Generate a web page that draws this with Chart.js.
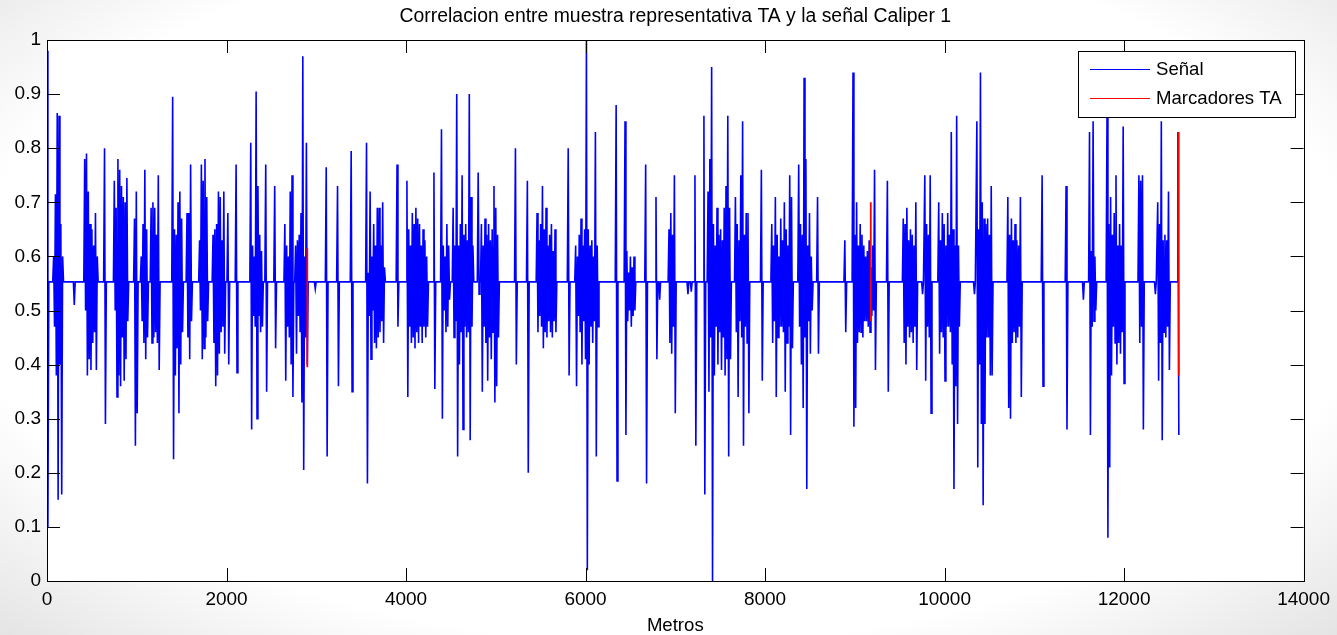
<!DOCTYPE html>
<html>
<head>
<meta charset="utf-8">
<title>Correlacion entre muestra representativa TA y la señal Caliper 1</title>
<script src="https://cdn.jsdelivr.net/npm/chart.js@4.4.1/dist/chart.umd.min.js"></script>
<style>
  html, body { margin: 0; padding: 0; }
  body {
    width: 1337px; height: 635px; overflow: hidden;
    background: radial-gradient(ellipse 72% 78% at 50% 45%, #ffffff 72%, #e3e3e3 100%);
  }
  canvas { display: block; }
</style>
</head>
<body>
<canvas id="grafica" width="1337" height="635"></canvas>
<script>
// Datos
const nivelBase = 0.553;   // nivel de la señal fuera de los tramos
const paso = 10;           // metros entre muestras dentro de un tramo

// inicio (metros) de cada tramo con actividad
const inicioTramo = [
  0, 74, 304, 420, 641, 750, 975, 1050, 1160, 1400,
  1560, 1700, 1850, 2015, 2107, 2270, 2437, 2537, 2650, 2770,
  2989, 3111, 3237, 3389, 3560, 3900, 4010, 4311, 4395, 4525,
  4804, 4840, 5219, 5352, 5460, 5807, 5890, 6341, 6440, 6670,
  6785, 6826, 6930, 7141, 7178, 7219, 7319, 7365, 7670, 7959,
  8075, 8375, 8585, 8889, 8980, 9363, 9540, 9755, 9780, 9935,
  10333, 10360, 10705, 11087, 11354, 11547, 11615, 11810, 12165, 12349,
  12375, 12600
];

// valores de correlacion de cada tramo
const valoresTramo = [
  [0.98, 0.10],
  [0.60, 0.47, 0.715, 0.38, 0.865, 0.15, 0.86, 0.40, 0.66, 0.16, 0.60],
  [0.51],
  [0.78, 0.50, 0.79, 0.38, 0.72, 0.41, 0.66, 0.39, 0.65, 0.44, 0.62, 0.46, 0.68, 0.39, 0.60],
  [0.80, 0.29],
  [0.74, 0.50, 0.69, 0.34, 0.78, 0.38, 0.76, 0.36, 0.73, 0.45, 0.71, 0.37, 0.70, 0.41, 0.745, 0.48],
  [0.67, 0.25, 0.72, 0.31],
  [0.60, 0.48, 0.66, 0.44, 0.76, 0.41, 0.65, 0.45],
  [0.69, 0.44, 0.70, 0.45, 0.69, 0.46, 0.64, 0.44, 0.75, 0.39],
  [0.895, 0.225, 0.65, 0.38, 0.64, 0.43, 0.70, 0.31, 0.72, 0.40, 0.67, 0.46],
  [0.68, 0.45, 0.68, 0.41, 0.77, 0.48],
  [0.63, 0.50, 0.77, 0.41, 0.74, 0.43, 0.78, 0.45, 0.71, 0.48],
  [0.64, 0.44, 0.65, 0.36, 0.66, 0.38, 0.72, 0.42, 0.71, 0.46, 0.63, 0.47, 0.72, 0.42],
  [0.68, 0.40],
  [0.77, 0.385],
  [0.81, 0.28, 0.62, 0.49, 0.60, 0.47, 0.905, 0.30, 0.73, 0.49, 0.64, 0.46, 0.61, 0.47],
  [0.77, 0.35],
  [0.73, 0.43],
  [0.66, 0.37, 0.62, 0.47, 0.60, 0.45, 0.72, 0.40, 0.75, 0.34],
  [0.62, 0.42, 0.63, 0.49, 0.64, 0.46, 0.68, 0.33, 0.97, 0.205, 0.60, 0.45, 0.81, 0.40],
  [0.54],
  [0.765, 0.23],
  [0.73, 0.36],
  [0.795, 0.35],
  [0.81, 0.18, 0.57, 0.49, 0.72, 0.41, 0.60, 0.50, 0.66, 0.44, 0.62, 0.43, 0.69, 0.45, 0.69, 0.46, 0.62, 0.48, 0.70, 0.44, 0.58],
  [0.77, 0.47],
  [0.74, 0.34, 0.65, 0.47, 0.62, 0.44, 0.68, 0.45, 0.66, 0.43, 0.69, 0.46, 0.67, 0.44, 0.66, 0.47, 0.62, 0.44, 0.65, 0.47, 0.63, 0.45, 0.60, 0.47],
  [0.755, 0.355],
  [0.835, 0.30, 0.62, 0.50, 0.60, 0.46, 0.66, 0.47, 0.62, 0.52],
  [0.69, 0.45, 0.62, 0.48, 0.90, 0.23, 0.62, 0.40, 0.66, 0.46, 0.75, 0.28, 0.64, 0.47, 0.66, 0.45, 0.63, 0.46, 0.90, 0.26, 0.71, 0.47, 0.62],
  [0.755, 0.53],
  [0.66, 0.35, 0.62, 0.47, 0.67, 0.44, 0.64, 0.37, 0.66, 0.45, 0.63, 0.41, 0.65, 0.46, 0.73, 0.33, 0.69, 0.36, 0.64, 0.45],
  [0.80, 0.40],
  [0.74, 0.20],
  [0.68, 0.46, 0.63, 0.49, 0.66, 0.47, 0.73, 0.43, 0.65, 0.46, 0.69, 0.45, 0.62, 0.48, 0.64, 0.46, 0.66, 0.45, 0.61, 0.48, 0.65, 0.46],
  [0.80, 0.38],
  [0.62, 0.36, 0.60, 0.49, 0.64, 0.46, 0.67, 0.40, 0.62, 0.48, 0.65, 0.41, 1.0, 0.02, 0.65, 0.40, 0.62, 0.47, 0.63, 0.44, 0.60, 0.48, 0.83, 0.23, 0.62, 0.47],
  [0.88, 0.185],
  [0.85, 0.27, 0.61, 0.48, 0.57, 0.50, 0.60, 0.47, 0.58, 0.49, 0.60, 0.50],
  [0.77, 0.18],
  [0.71, 0.41],
  [0.52],
  [0.65, 0.44, 0.68, 0.42, 0.64, 0.47, 0.75, 0.31],
  [0.53],
  [0.535],
  [0.75, 0.25],
  [0.86, 0.16],
  [0.72, 0.35, 0.78, 0.45, 0.95, 0.0, 0.66, 0.38, 0.62, 0.47, 0.69, 0.40, 0.64, 0.46, 0.65, 0.39, 0.63, 0.45, 0.69, 0.38, 0.73, 0.41, 0.86, 0.23, 0.69, 0.41],
  [0.71, 0.46, 0.66, 0.34, 0.63, 0.48, 0.75, 0.45, 0.85, 0.25, 0.64, 0.47, 0.68, 0.44, 0.68, 0.31],
  [0.76, 0.37],
  [0.66, 0.44, 0.62, 0.48, 0.71, 0.34, 0.64, 0.45, 0.60, 0.47, 0.67, 0.47, 0.63, 0.46, 0.70, 0.35, 0.65, 0.44, 0.62, 0.47, 0.75, 0.27, 0.71, 0.43],
  [0.77, 0.47, 0.66, 0.40, 0.64, 0.32, 0.93, 0.45, 0.78, 0.17, 0.62, 0.48, 0.68, 0.42, 0.60, 0.50],
  [0.71, 0.42],
  [0.63, 0.46],
  [0.94, 0.285, 0.64, 0.32, 0.70, 0.44, 0.62, 0.46, 0.66, 0.46, 0.64, 0.45, 0.62, 0.48, 0.60, 0.48, 0.61, 0.47, 0.63, 0.46, 0.58, 0.49, 0.62, 0.50, 0.76, 0.39],
  [0.74, 0.35],
  [0.67, 0.44, 0.66, 0.40, 0.69, 0.47, 0.63, 0.45, 0.65, 0.46, 0.64, 0.44, 0.62, 0.47, 0.70, 0.39],
  [0.53],
  [0.75, 0.37, 0.66, 0.47, 0.64, 0.45, 0.75, 0.31],
  [0.70, 0.42, 0.63, 0.46, 0.68, 0.45, 0.66, 0.37, 0.62, 0.47, 0.68, 0.47, 0.64, 0.46, 0.83, 0.40, 0.65, 0.17, 0.62, 0.36, 0.86, 0.29, 0.62, 0.47],
  [0.53],
  [0.85, 0.21, 0.65, 0.40, 0.94, 0.29, 0.70, 0.14, 0.67, 0.29, 0.66, 0.45, 0.67, 0.45, 0.64, 0.38, 0.73, 0.38],
  [0.71, 0.32, 0.64, 0.30, 0.67, 0.44, 0.63, 0.46, 0.66, 0.44, 0.63, 0.45, 0.62, 0.47, 0.71, 0.34],
  [0.75, 0.36],
  [0.73, 0.28],
  [0.52],
  [0.83, 0.27, 0.61, 0.47, 0.85, 0.48, 0.60, 0.50],
  [0.86, 0.08, 0.66, 0.21, 0.71, 0.38, 0.64, 0.47, 0.68, 0.44, 0.75, 0.40, 0.62, 0.44, 0.66, 0.42, 0.62, 0.46, 0.84, 0.365],
  [0.75, 0.44, 0.74, 0.47, 0.75, 0.28],
  [0.53],
  [0.70, 0.37, 0.66, 0.44, 0.85, 0.26, 0.63, 0.46, 0.64, 0.45, 0.63, 0.47, 0.72, 0.39],
  [0.83, 0.27]
];

// marcadores TA (segmentos rojos)
const marcadorMetros = [0, 2900, 9178, 12609];
const marcadorMin = [0.28, 0.395, 0.48, 0.38];
const marcadorMax = [0.76, 0.615, 0.70, 0.83];

const ticksX = [0, 2000, 4000, 6000, 8000, 10000, 12000, 14000];
const ticksY = [0, 0.1, 0.2, 0.3, 0.4, 0.5, 0.6, 0.7, 0.8, 0.9, 1];

const fuente = '"Liberation Sans", Arial, sans-serif';

// Build the signal points from the tramos
function armarSenal() {
  const puntos = [];
  inicioTramo.forEach((inicio, i) => {
    const valores = valoresTramo[i];
    puntos.push({ x: inicio - paso, y: nivelBase });
    valores.forEach((v, j) => puntos.push({ x: inicio + j * paso, y: v }));
    if (i < inicioTramo.length - 1) {
      puntos.push({ x: inicio + valores.length * paso, y: nivelBase });
    }
  });
  return puntos;
}

function armarMarcadores() {
  const puntos = [];
  marcadorMetros.forEach((m, i) => {
    puntos.push({ x: m, y: marcadorMin[i] }, { x: m, y: marcadorMax[i] }, { x: m, y: null });
  });
  return puntos;
}

// Frame, inward ticks, title and legend in MATLAB style
const estiloMatlab = {
  id: 'estiloMatlab',
  beforeDatasetsDraw(chart) {
    const { ctx, chartArea: a } = chart;
    ctx.save();
    ctx.fillStyle = '#ffffff';
    ctx.fillRect(a.left, a.top, a.right - a.left, a.bottom - a.top);
    ctx.restore();
  },
  afterDraw(chart) {
    const { ctx, chartArea: a, scales } = chart;
    const largo = 13;
    ctx.save();
    ctx.strokeStyle = '#000';
    ctx.lineWidth = 1;
    ctx.beginPath();
    ticksX.forEach(v => {
      const px = Math.round(scales.x.getPixelForValue(v)) + 0.5;
      ctx.moveTo(px, a.bottom); ctx.lineTo(px, a.bottom - largo);
      ctx.moveTo(px, a.top); ctx.lineTo(px, a.top + largo);
    });
    ticksY.forEach(v => {
      const py = Math.round(scales.y.getPixelForValue(v)) + 0.5;
      ctx.moveTo(a.left, py); ctx.lineTo(a.left + largo, py);
      ctx.moveTo(a.right, py); ctx.lineTo(a.right - largo, py);
    });
    ctx.stroke();
    ctx.strokeRect(Math.round(a.left) + 0.5, Math.round(a.top) + 0.5,
      Math.round(a.right - a.left), Math.round(a.bottom - a.top));

    // title
    ctx.fillStyle = '#000';
    ctx.font = '19.4px ' + fuente;
    ctx.textAlign = 'center';
    ctx.textBaseline = 'middle';
    ctx.fillText('Correlacion entre muestra representativa TA y la señal Caliper 1', (a.left + a.right) / 2, 17);

    // legend
    const lx = 1078, ly = 51, lw = 217, lh = 66;
    ctx.fillStyle = '#fff';
    ctx.fillRect(lx, ly, lw, lh);
    ctx.strokeStyle = '#000';
    ctx.strokeRect(lx + 0.5, ly + 0.5, lw, lh);
    const entradas = [
      { texto: 'Señal', color: 'rgb(0,0,255)', y: 69 },
      { texto: 'Marcadores TA', color: 'rgb(255,0,0)', y: 98 }
    ];
    ctx.font = '18.6px ' + fuente;
    ctx.textAlign = 'left';
    entradas.forEach(e => {
      ctx.strokeStyle = e.color;
      ctx.beginPath();
      ctx.moveTo(1090, e.y + 0.5); ctx.lineTo(1150, e.y + 0.5);
      ctx.stroke();
      ctx.fillStyle = '#000';
      ctx.fillText(e.texto, 1156, e.y + 1);
    });
    ctx.restore();
  }
};

const ctx = document.getElementById('grafica').getContext('2d');
new Chart(ctx, {
  type: 'line',
  data: {
    datasets: [
      {
        label: 'Marcadores TA',
        data: armarMarcadores(),
        borderColor: 'rgb(255,0,0)',
        borderWidth: 1.8,
        pointRadius: 0,
        spanGaps: false,
        order: 0
      },
      {
        label: 'Señal',
        data: armarSenal(),
        borderColor: 'rgb(0,0,255)',
        borderWidth: 1.6,
        pointRadius: 0,
        tension: 0,
        order: 1
      }
    ]
  },
  options: {
    responsive: false,
    animation: false,
    events: [],
    layout: { padding: { top: 40, right: 33, bottom: 0, left: 0 } },
    plugins: {
      legend: { display: false },
      tooltip: { enabled: false },
      title: { display: false }
    },
    scales: {
      x: {
        type: 'linear',
        min: 0,
        max: 14000,
        grid: { display: false, drawTicks: false },
        border: { display: false },
        afterBuildTicks: s => { s.ticks = ticksX.map(v => ({ value: v })); },
        afterFit: s => { s.height = 54; },
        ticks: {
          callback: v => String(v),
          font: { family: fuente, size: 19 },
          color: '#000',
          padding: 7,
          maxRotation: 0
        },
        title: {
          display: true,
          text: 'Metros',
          font: { family: fuente, size: 18.6 },
          color: '#000',
          padding: { top: 0, bottom: -2 }
        }
      },
      y: {
        min: 0,
        max: 1,
        grid: { display: false, drawTicks: false },
        border: { display: false },
        afterBuildTicks: s => { s.ticks = ticksY.map(v => ({ value: v })); },
        afterFit: s => { s.width = 47; },
        ticks: {
          callback: v => String(v),
          font: { family: fuente, size: 19 },
          color: '#000',
          padding: 6
        }
      }
    }
  },
  plugins: [estiloMatlab]
});
</script>
</body>
</html>
